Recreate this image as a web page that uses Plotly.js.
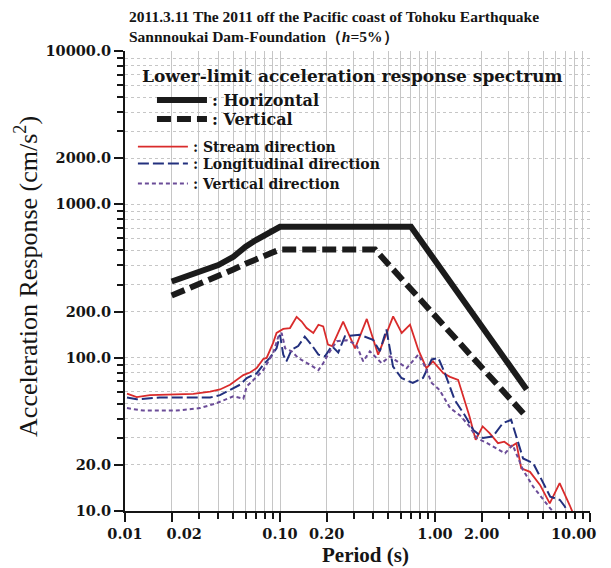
<!DOCTYPE html>
<html>
<head>
<meta charset="utf-8">
<script src="https://cdn.plot.ly/plotly-3.0.1.min.js"></script>
<style>html,body{margin:0;padding:0;background:#fff;}#chart{width:611px;height:568px;}</style>
</head>
<body>
<div id="chart"></div>
<script>
// Lower-limit acceleration response spectra
const horizT = [0.02, 0.03, 0.04, 0.05, 0.06, 0.07, 0.08, 0.09, 0.1, 0.7, 3.9];
const horizSa = [314, 360, 402, 455, 530, 585, 630, 675, 714, 714, 62];
const vertT = [0.02, 0.03, 0.04, 0.05, 0.06, 0.07, 0.08, 0.09, 0.1, 0.41, 3.9];
const vertSa = [254, 300, 340, 376, 410, 440, 466, 488, 508, 508, 41];

// Observed spectra (Sannnoukai Dam foundation)
const streamT = [0.0103, 0.0119, 0.0145, 0.0276, 0.0354, 0.041, 0.0476, 0.058, 0.064, 0.0707, 0.078, 0.082, 0.0903, 0.095, 0.105, 0.116, 0.128, 0.138, 0.1485, 0.164, 0.177, 0.19, 0.204, 0.217, 0.2555, 0.305, 0.363, 0.43, 0.537, 0.61, 0.69, 0.78, 0.88, 0.97, 1.13, 1.25, 1.41, 1.67, 1.83, 2.03, 2.25, 2.55, 2.8, 3.1, 3.35, 3.6, 4.1, 4.76, 5.5, 6.37, 7.4, 8.0];
const streamSa = [58.2, 55.3, 57, 58, 60, 62, 66.6, 77, 80, 85.5, 98, 99.6, 124.8, 145, 154, 156, 184.6, 172, 156, 145, 164, 160, 121.6, 119, 172, 115, 179, 104.6, 186, 145, 164, 112.7, 85.5, 94.6, 79.4, 75, 71.7, 41.3, 29.1, 35.6, 32.2, 27.7, 28.3, 26.3, 27.7, 19, 18, 14.8, 11.2, 15.2, 10.9, 9];

const longT = [0.0103, 0.0119, 0.0168, 0.0354, 0.041, 0.0476, 0.0552, 0.061, 0.0707, 0.078, 0.086, 0.095, 0.1, 0.105, 0.11, 0.119, 0.131, 0.1445, 0.16, 0.177, 0.195, 0.216, 0.2375, 0.2625, 0.3, 0.327, 0.398, 0.4405, 0.486, 0.536, 0.6075, 0.72, 0.837, 0.952, 1.05, 1.16, 1.34, 1.56, 1.766, 2.04, 2.36, 2.74, 3.1, 3.35, 3.7, 4.3, 4.89, 5.54, 6.4, 6.88, 7.3];
const longSa = [55, 53.5, 55, 55, 57, 61.6, 66.6, 73.7, 79, 90, 99.6, 115, 141, 104.6, 94.6, 112.7, 119, 137, 121, 104.6, 102, 119, 108, 138, 140, 141, 131, 110, 152.6, 87.5, 73.7, 68.4, 73.7, 97.4, 99.6, 79, 53, 42, 33.8, 29.9, 30.6, 37.4, 39.3, 30.6, 22, 20.5, 16, 12.4, 11.8, 10.7, 9.5];

const vdirT = [0.0103, 0.0131, 0.0215, 0.0305, 0.039, 0.05, 0.058, 0.061, 0.0707, 0.078, 0.0903, 0.0975, 0.1025, 0.108, 0.119, 0.131, 0.156, 0.177, 0.19, 0.21, 0.2325, 0.27, 0.31, 0.344, 0.38, 0.4525, 0.512, 0.565, 0.657, 0.78, 0.862, 0.952, 1.07, 1.25, 1.45, 1.67, 1.86, 2.17, 2.5, 2.83, 3.17, 3.7, 4.3, 5.0, 5.54, 6.0];
const vdirSa = [46.9, 45.2, 45.2, 46.9, 50.5, 56, 54, 65, 75, 83, 107, 137, 145, 115, 110, 99.6, 90, 83, 92, 110, 128, 130, 122, 94.6, 110, 92, 102, 94.6, 85.5, 104.6, 87.5, 68.4, 61.6, 47, 42, 35.6, 29.9, 27.7, 25.7, 23.8, 27, 18.5, 14.4, 11.8, 10.4, 9.5];

// Axis ticks (the last x label, 10.00, sits at the right edge and is drawn as an annotation at x = 10)
const xTickVals = [0.01, 0.02, 0.1, 0.2, 1, 2, 10];
const xTickText = ['0.01', '\u00a0\u00a0\u00a0\u00a0\u00a00.02', '0.10', '0.20', '1.00', '2.00', ''];
const xEdgeTickVal = 10;
const xEdgeTickText = '10.00';
const xMinorVals = [0.03, 0.04, 0.05, 0.06, 0.07, 0.08, 0.09, 0.3, 0.4, 0.5, 0.6, 0.7, 0.8, 0.9, 3, 4, 5, 6, 7, 8, 9];
const yTickVals = [10, 20, 100, 200, 1000, 2000, 10000];
const yTickText = ['10.0', '20.0', '100.0', '200.0', '1000.0', '2000.0', '10000.0'];
const yMinorVals = [30, 40, 50, 60, 70, 80, 90, 300, 400, 500, 600, 700, 800, 900, 3000, 4000, 5000, 6000, 7000, 8000, 9000];

const serif = 'Liberation Serif, Times New Roman, serif';
const wide = 'DejaVu Serif, serif';
const ink = '#151515';
const grid = '#c6c6c6';

const traces = [
  {x: horizT, y: horizSa, name: ': Horizontal', mode: 'lines', legend: 'legend',
   line: {color: '#1b1b1b', width: 6}},
  {x: vertT, y: vertSa, name: ': Vertical', mode: 'lines', legend: 'legend2',
   line: {color: '#1b1b1b', width: 6, dash: '14px,6px'}},
  {x: streamT, y: streamSa, name: ': Stream direction', mode: 'lines', legend: 'legend3',
   line: {color: '#d92b2b', width: 1.8}},
  {x: longT, y: longSa, name: ': Longitudinal direction', mode: 'lines', legend: 'legend4',
   line: {color: '#23307e', width: 2, dash: '11px,4px'}},
  {x: vdirT, y: vdirSa, name: ': Vertical direction', mode: 'lines', legend: 'legend5',
   line: {color: '#6b4c98', width: 2, dash: '4px,3px'}}
];

const axisFont = {family: wide, size: 14.5, weight: 'bold', color: ink};

function legendAt(x, y, size) {
  return {
    x: x, y: y, xanchor: 'left', yanchor: 'middle',
    bgcolor: 'rgba(0,0,0,0)', borderwidth: 0, itemwidth: 50,
    font: {family: wide, size: size, weight: 'bold', color: ink}
  };
}

const layout = {
  width: 611, height: 568,
  margin: {l: 125, r: 21, t: 51, b: 57},
  paper_bgcolor: '#fff', plot_bgcolor: '#fff',
  showlegend: true,
  xaxis: {
    type: 'log', range: [-2, 1], fixedrange: true,
    tickmode: 'array', tickvals: xTickVals, ticktext: xTickText, tickangle: 0,
    ticks: 'outside', ticklen: 9, tickwidth: 2, tickcolor: ink,
    showline: true, linewidth: 2, linecolor: ink, zeroline: false,
    showgrid: true, gridcolor: grid, gridwidth: 1,
    minor: {tickmode: 'array', tickvals: xMinorVals, ticks: 'outside', ticklen: 6, tickwidth: 2, tickcolor: ink,
            showgrid: true, gridcolor: grid, gridwidth: 1},
    tickfont: axisFont
  },
  yaxis: {
    type: 'log', range: [1, 4], fixedrange: true,
    tickmode: 'array', tickvals: yTickVals, ticktext: yTickText,
    ticks: 'outside', ticklen: 9, tickwidth: 2, tickcolor: ink,
    showline: true, linewidth: 2, linecolor: ink, zeroline: false,
    showgrid: true, gridcolor: grid, gridwidth: 1, griddash: 'dot',
    minor: {tickmode: 'array', tickvals: yMinorVals, ticks: 'outside', ticklen: 6, tickwidth: 2, tickcolor: ink,
            showgrid: true, gridcolor: grid, gridwidth: 1, griddash: 'dot'},
    tickfont: axisFont
  },
  xaxis2: {
    type: 'log', range: [-2, 1], overlaying: 'x', side: 'top', anchor: 'y', fixedrange: true,
    tickmode: 'array', tickvals: xTickVals.concat(xMinorVals), showticklabels: false,
    ticks: 'inside', ticklen: 7, tickwidth: 2, tickcolor: ink,
    showline: true, linewidth: 2, linecolor: ink, showgrid: false, zeroline: false
  },
  yaxis2: {
    type: 'log', range: [1, 4], overlaying: 'y', side: 'right', anchor: 'x', fixedrange: true,
    tickmode: 'array', tickvals: yTickVals.concat(yMinorVals), showticklabels: false,
    ticks: 'inside', ticklen: 7, tickwidth: 2, tickcolor: ink,
    showline: true, linewidth: 2, linecolor: ink, showgrid: false, zeroline: false
  },
  legend: legendAt(0.058, 0.8935, 16),
  legend2: legendAt(0.058, 0.852, 16),
  legend3: legendAt(0.017, 0.7913, 14),
  legend4: legendAt(0.017, 0.7543, 14),
  legend5: legendAt(0.017, 0.7109, 14),
  annotations: [
    {
      text: '<b>2011.3.11 The 2011 off the Pacific coast of Tohoku Earthquake<br>Sannnoukai Dam-Foundation\uff08<i>h</i>=5%\uff09</b>',
      xref: 'paper', yref: 'paper', x: 0.004, y: 1.098, xanchor: 'left', yanchor: 'top', align: 'left',
      showarrow: false, font: {family: serif, size: 15.5, color: ink}
    },
    {
      text: '<b>Lower-limit acceleration response spectrum</b>',
      xref: 'paper', yref: 'paper', x: 0.032, y: 0.946, xanchor: 'left', yanchor: 'middle',
      showarrow: false, font: {family: wide, size: 17, color: ink}
    },
    {
      text: '<b>' + xEdgeTickText + '</b>',
      xref: 'x', yref: 'paper', x: Math.log10(xEdgeTickVal), y: -0.048, xanchor: 'right', yanchor: 'middle',
      xshift: 8, showarrow: false, font: {family: wide, size: 14.5, color: ink}
    },
    {
      text: '<b>Period (s)</b>',
      xref: 'paper', yref: 'paper', x: 0.518, y: -0.096, xanchor: 'center', yanchor: 'middle',
      showarrow: false, font: {family: serif, size: 21, color: ink}
    },
    {
      text: 'Acceleration Response (cm/s<sup>2</sup>)',
      xref: 'paper', yref: 'paper', x: -0.2108, y: 0.511, xanchor: 'center', yanchor: 'middle',
      textangle: -90, showarrow: false, font: {family: serif, size: 26, color: ink}
    }
  ]
};

Plotly.newPlot('chart', traces, layout, {staticPlot: true, displayModeBar: false});
</script>
</body>
</html>
